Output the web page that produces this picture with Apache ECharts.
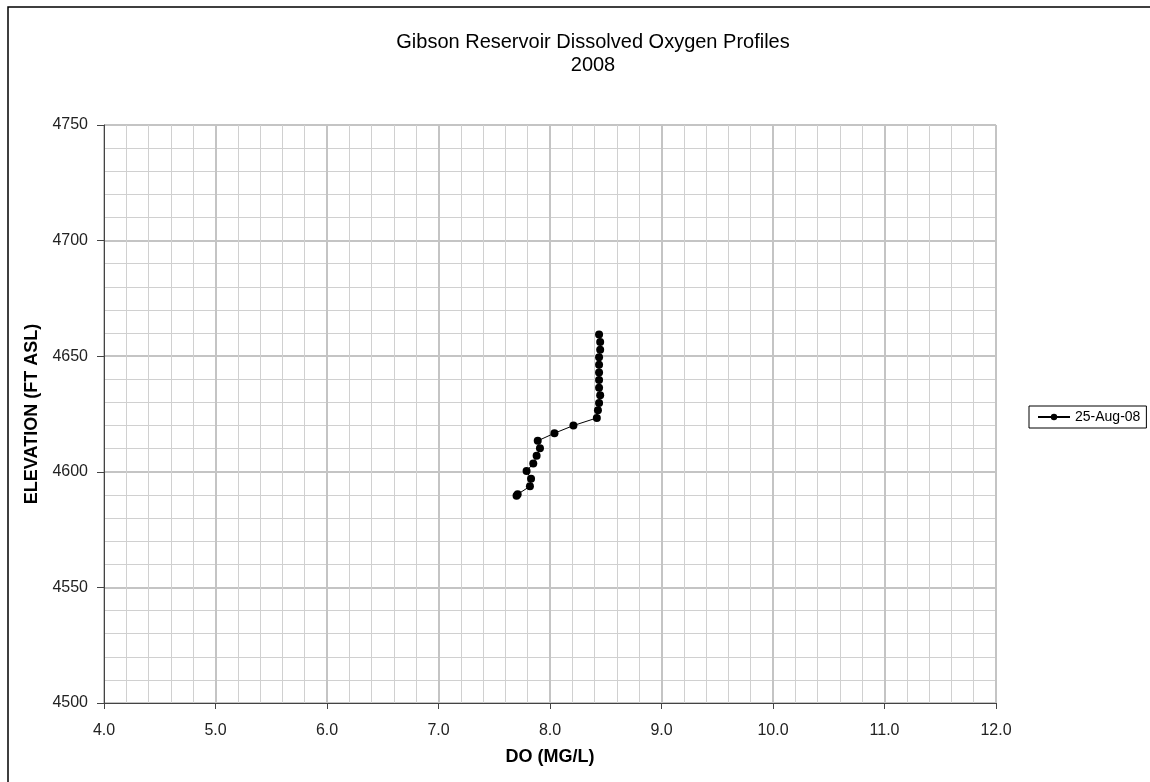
<!DOCTYPE html>
<html>
<head>
<meta charset="utf-8">
<script src="https://cdn.jsdelivr.net/npm/echarts@6/dist/echarts.min.js"></script>
<style>
html,body{margin:0;padding:0;background:#fff;}
#chart{width:1150px;height:782px;}
</style>
</head>
<body>
<div id="chart"></div>
<script>
const seriesName = '25-Aug-08';
const elevation = [4659.4, 4656.1, 4652.8, 4649.5, 4646.3, 4643.0, 4639.7, 4636.4, 4633.1, 4629.8, 4626.6, 4623.3, 4620.0, 4616.7, 4613.4, 4610.2, 4606.9, 4603.6, 4600.3, 4597.0, 4593.7, 4590.3, 4589.6];
const doValues = [8.44, 8.45, 8.45, 8.44, 8.44, 8.44, 8.44, 8.44, 8.45, 8.44, 8.43, 8.42, 8.21, 8.04, 7.89, 7.91, 7.88, 7.85, 7.79, 7.83, 7.82, 7.71, 7.70];
const xTicks = {min: 4, max: 12, interval: 1};
const yTicks = {min: 4500, max: 4750, interval: 50};

const data = doValues.map((v, i) => [v, elevation[i]]);
const font = 'Liberation Sans, Arial, sans-serif';

const chart = echarts.init(document.getElementById('chart'));
chart.setOption({
  animation: false,
  backgroundColor: '#fff',
  title: {
    text: 'Gibson Reservoir Dissolved Oxygen Profiles\n2008',
    left: 588, top: 26, textAlign: 'center',
    textStyle: {fontFamily: font, fontSize: 20, fontWeight: 'normal', color: '#000', lineHeight: 23}
  },
  legend: {
    data: [seriesName],
    left: 1029, top: 406,
    orient: 'vertical',
    borderColor: '#000', borderWidth: 1, borderRadius: 0,
    padding: [4, 6, 4, 8],
    itemWidth: 32, itemHeight: 8, itemGap: 4,
    textStyle: {fontFamily: font, fontSize: 14, color: '#000'}
  },
  grid: {left: 104, top: 125, width: 892, height: 578, containLabel: false, show: true, borderColor: '#555', borderWidth: 1},
  xAxis: {
    type: 'value', min: xTicks.min, max: xTicks.max, interval: xTicks.interval,
    name: 'DO (MG/L)', nameLocation: 'middle', nameGap: 45,
    nameTextStyle: {fontFamily: font, fontSize: 18, fontWeight: 'bold', color: '#000'},
    axisLine: {show: true, onZero: false, lineStyle: {color: '#444', width: 1}},
    axisTick: {show: true, inside: false, length: 6, lineStyle: {color: '#444'}},
    axisLabel: {fontFamily: font, fontSize: 16, color: '#222', margin: 20, formatter: v => v.toFixed(1)},
    splitLine: {show: true, lineStyle: {color: '#c4c4c4', width: 2}},
    minorTick: {show: false, splitNumber: 5},
    minorSplitLine: {show: true, lineStyle: {color: '#d0d0d0', width: 1}}
  },
  yAxis: {
    type: 'value', min: yTicks.min, max: yTicks.max, interval: yTicks.interval,
    name: 'ELEVATION (FT ASL)', nameLocation: 'middle', nameGap: 55,
    nameTextStyle: {fontFamily: font, fontSize: 18, fontWeight: 'bold', color: '#000'},
    axisLine: {show: true, onZero: false, lineStyle: {color: '#444', width: 1}},
    axisTick: {show: true, inside: false, length: 7, lineStyle: {color: '#444'}},
    axisLabel: {fontFamily: font, fontSize: 16, color: '#222', margin: 16, formatter: v => String(v)},
    splitLine: {show: true, lineStyle: {color: '#c4c4c4', width: 2}},
    minorTick: {show: false, splitNumber: 5},
    minorSplitLine: {show: true, lineStyle: {color: '#d0d0d0', width: 1}}
  },
  series: [{
    name: seriesName,
    type: 'line',
    data: data,
    symbol: 'circle', symbolSize: 8,
    itemStyle: {color: '#000'},
    lineStyle: {color: '#000', width: 1},
    z: 5
  }],
  graphic: [{
    type: 'rect', shape: {x: 8, y: 7, width: 1300, height: 900},
    style: {fill: null, stroke: '#000', lineWidth: 1.5}, silent: true
  }]
});
</script>
</body>
</html>
